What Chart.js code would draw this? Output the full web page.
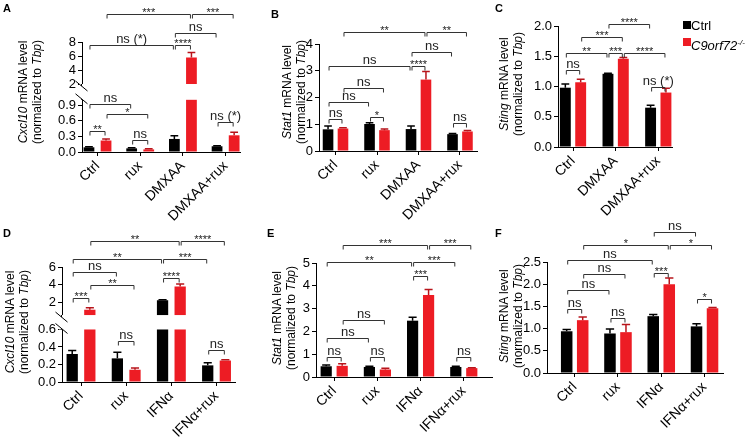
<!DOCTYPE html>
<html>
<head>
<meta charset="utf-8">
<script src="https://cdn.jsdelivr.net/npm/chart.js@4.4.0/dist/chart.umd.min.js"></script>
<style>
  body { margin: 0; background: #fff; }
  #fig { position: relative; width: 749px; height: 440px; overflow: hidden;
         font-family: "Liberation Sans", Arial, Helvetica, sans-serif; color: #000; }
  #fig canvas { position: absolute; left: 0; top: 0; }
  .tag { position: absolute; font-weight: bold; font-size: 11px; line-height: 12px; }
  .ytitle { position: absolute; font-size: 12px; line-height: 14px; white-space: nowrap;
            text-align: center; transform: translate(-50%, -50%) rotate(-90deg); }
  .sq { position: absolute; width: 8px; height: 8px; }
  .legtxt { position: absolute; font-size: 13px; line-height: 15px; white-space: nowrap; }
  .legtxt sup { font-size: 8px; vertical-align: 5px; font-style: italic; }
</style>
</head>
<body>
<div id="fig">
  <canvas id="cA" width="749" height="440"></canvas>
  <canvas id="cB" width="749" height="440"></canvas>
  <canvas id="cC" width="749" height="440"></canvas>
  <canvas id="cD" width="749" height="440"></canvas>
  <canvas id="cE" width="749" height="440"></canvas>
  <canvas id="cF" width="749" height="440"></canvas>

  <div class="tag" style="left:3px;top:2px">A</div>
  <div class="tag" style="left:271px;top:8px">B</div>
  <div class="tag" style="left:495px;top:2px">C</div>
  <div class="tag" style="left:3px;top:227px">D</div>
  <div class="tag" style="left:267px;top:227px">E</div>
  <div class="tag" style="left:495px;top:227px">F</div>

  <div class="ytitle" style="left:30px;top:92px"><i>Cxcl10</i> mRNA level<br>(normalized to <i>Tbp</i>)</div>
  <div class="ytitle" style="left:294px;top:92px"><i>Stat1</i> mRNA level<br>(normalized to <i>Tbp</i>)</div>
  <div class="ytitle" style="left:511px;top:84px"><i>Sting</i> mRNA level<br>(normalized to <i>Tbp</i>)</div>
  <div class="ytitle" style="left:17px;top:322px"><i>Cxcl10</i> mRNA level<br>(normalized to <i>Tbp</i>)</div>
  <div class="ytitle" style="left:284px;top:318px"><i>Stat1</i> mRNA level<br>(normalized to <i>Tbp</i>)</div>
  <div class="ytitle" style="left:511px;top:316px"><i>Sting</i> mRNA level<br>(normalized to <i>Tbp</i>)</div>

  <div class="sq" style="left:683px;top:21px;background:#000"></div>
  <div class="legtxt" style="left:691px;top:18px">Ctrl</div>
  <div class="sq" style="left:683px;top:38px;background:#ed1c24"></div>
  <div class="legtxt" style="left:691px;top:35px"><i>C9orf72</i><sup>-/-</sup></div>
</div>

<script>
// ---- data ----
// brackets: [group, series, group, series, height (axis units), label]; series 0 = Ctrl, 1 = C9orf72-/-

const groupsA = ['Ctrl', 'rux', 'DMXAA', 'DMXAA+rux'];
const ctrlA = [0.09, 0.07, 0.25, 0.11];
const ctrlErrA = [0.01, 0.01, 0.06, 0.01];
const koA = [0.22, 0.05, 5.8, 0.32];
const koErrA = [0.03, 0.01, 0.7, 0.06];
const yTicksA = [0, 0.3, 0.6, 0.9, 2, 4, 6, 8];
const yLabelsA = ['0.0', '0.3', '0.6', '0.9', '2', '4', '6', '8'];
const sigA = [
  [0, 1, 2, 1, 12, '***'], [2, 1, 3, 1, 12, '***'],
  [2, 0, 3, 0, 9.3, 'ns'],
  [0, 0, 2, 0, 7.57, 'ns (*)'], [2, 0, 2, 1, 7.57, '****'],
  [0, 0, 1, 0, 0.92, 'ns'], [0, 1, 1, 1, 0.73, '*'],
  [0, 0, 0, 1, 0.40, '**'], [1, 0, 1, 1, 0.23, 'ns'],
  [3, 0, 3, 1, 0.58, 'ns (*)']
];

const groupsB = ['Ctrl', 'rux', 'DMXAA', 'DMXAA+rux'];
const ctrlB = [0.81, 1.01, 0.82, 0.63];
const ctrlErrB = [0.12, 0.05, 0.11, 0.02];
const koB = [0.84, 0.78, 2.67, 0.73];
const koErrB = [0.03, 0.04, 0.3, 0.04];
const yTicksB = [0, 1, 2, 3, 4];
const yLabelsB = ['0', '1', '2', '3', '4'];
const sigB = [
  [0, 1, 2, 1, 4.43, '**'], [2, 1, 3, 1, 4.43, '**'],
  [2, 0, 3, 0, 3.70, 'ns'],
  [0, 0, 2, 0, 3.16, 'ns'], [2, 0, 2, 1, 3.16, '****'],
  [0, 1, 1, 1, 2.37, 'ns'], [0, 0, 1, 0, 1.82, 'ns'],
  [0, 0, 0, 1, 1.20, 'ns'], [1, 0, 1, 1, 1.28, '*'],
  [3, 0, 3, 1, 1.06, 'ns']
];

const groupsC = ['Ctrl', 'DMXAA', 'DMXAA+rux'];
const ctrlC = [0.98, 1.21, 0.65];
const ctrlErrC = [0.06, 0.01, 0.04];
const koC = [1.07, 1.46, 0.90];
const koErrC = [0.05, 0.02, 0.07];
const yTicksC = [0, 0.5, 1, 1.5, 2];
const yLabelsC = ['0.0', '0.5', '1.0', '1.5', '2.0'];
const sigC = [
  [1, 0, 2, 0, 2.04, '****'],
  [0, 1, 1, 1, 1.81, '***'],
  [0, 0, 1, 0, 1.55, '**'], [1, 0, 1, 1, 1.55, '***'], [1, 1, 2, 1, 1.55, '****'],
  [0, 0, 0, 1, 1.27, 'ns'],
  [2, 0, 2, 1, 1.00, 'ns (*)']
];

const groupsD = ['Ctrl', 'rux', 'IFNα', 'IFNα+rux'];
const ctrlD = [0.32, 0.27, 2.25, 0.19];
const ctrlErrD = [0.04, 0.07, 0.06, 0.03];
const koD = [1.2, 0.14, 3.8, 0.245];
const koErrD = [0.22, 0.02, 0.3, 0.01];
const yTicksD = [0, 0.2, 0.4, 0.6, 2, 4, 6];
const yLabelsD = ['0.0', '0.2', '0.4', '0.6', '2', '4', '6'];
const sigD = [
  [0, 1, 2, 1, 8.9, '**'], [2, 1, 3, 1, 8.9, '****'],
  [0, 0, 2, 0, 6.93, '**'], [2, 0, 3, 0, 6.93, '***'],
  [0, 0, 1, 0, 5.44, 'ns'], [2, 0, 2, 1, 4.81, '****'],
  [0, 1, 1, 1, 4.03, '**'], [0, 0, 0, 1, 2.47, '***'],
  [1, 0, 1, 1, 0.47, 'ns'], [3, 0, 3, 1, 0.37, 'ns']
];

const groupsE = ['Ctrl', 'rux', 'IFNα', 'IFNα+rux'];
const ctrlE = [0.47, 0.44, 2.47, 0.44];
const ctrlErrE = [0.06, 0.03, 0.15, 0.03];
const koE = [0.49, 0.33, 3.6, 0.39];
const koErrE = [0.09, 0.05, 0.24, 0.02];
const yTicksE = [0, 1, 2, 3, 4, 5];
const yLabelsE = ['0', '1', '2', '3', '4', '5'];
const sigE = [
  [0, 1, 2, 1, 5.77, '***'], [2, 1, 3, 1, 5.77, '***'],
  [0, 0, 2, 0, 5.04, '**'], [2, 0, 3, 0, 5.04, '***'],
  [2, 0, 2, 1, 4.41, '***'],
  [0, 1, 1, 1, 2.50, 'ns'], [0, 0, 1, 0, 1.72, 'ns'],
  [0, 0, 0, 1, 0.88, 'ns'], [1, 0, 1, 1, 0.88, 'ns'], [3, 0, 3, 1, 0.88, 'ns']
];

const groupsF = ['Ctrl', 'rux', 'IFNα', 'IFNα+rux'];
const ctrlF = [0.94, 0.89, 1.28, 1.05];
const ctrlErrF = [0.04, 0.1, 0.04, 0.06];
const koF = [1.19, 0.92, 2.0, 1.46];
const koErrF = [0.07, 0.17, 0.14, 0.015];
const yTicksF = [0, 0.5, 1, 1.5, 2, 2.5];
const yLabelsF = ['0.0', '0.5', '1.0', '1.5', '2.0', '2.5'];
const sigF = [
  [2, 0, 3, 0, 3.18, 'ns'],
  [0, 1, 2, 1, 2.89, '*'], [2, 1, 3, 1, 2.89, '*'],
  [0, 0, 2, 0, 2.55, 'ns'],
  [0, 1, 1, 1, 2.23, 'ns'], [2, 0, 2, 1, 2.25, '***'],
  [0, 0, 1, 0, 1.88, 'ns'],
  [0, 0, 0, 1, 1.45, 'ns'], [1, 0, 1, 1, 1.25, 'ns'], [3, 0, 3, 1, 1.67, '*']
];

// ---- layout ----
const W = 749, H = 440;
const FONT = '"Liberation Sans", Arial, Helvetica, sans-serif';
const BLACK = '#000000', RED = '#ed1c24', RED_ERR = '#b8141b';

// box = [left, top, right, bottom] of the plot area; xr = x range in group units
const PANELS = {
  cA: { groups: groupsA, ctrl: ctrlA, ctrlErr: ctrlErrA, ko: koA, koErr: koErrA,
        yTicks: yTicksA, yLabels: yLabelsA, sig: sigA,
        brk: { low: 1, high: 2, lowFrac: 0.4745, gapFrac: 0.1436 },
        box: [82, 42, 240, 152], xr: [-0.363, 3.337], pct: [0.80, 0.63] },
  cB: { groups: groupsB, ctrl: ctrlB, ctrlErr: ctrlErrB, ko: koB, koErr: koErrB,
        yTicks: yTicksB, yLabels: yLabelsB, sig: sigB,
        box: [319, 44, 477, 151], xr: [-0.398, 3.41], pct: [0.72, 0.71] },
  cC: { groups: groupsC, ctrl: ctrlC, ctrlErr: ctrlErrC, ko: koC, koErr: koErrC,
        yTicks: yTicksC, yLabels: yLabelsC, sig: sigC,
        box: [558, 26, 672, 147], xr: [-0.352, 2.322], pct: [0.72, 0.71] },
  cD: { groups: groupsD, ctrl: ctrlD, ctrlErr: ctrlErrD, ko: koD, koErr: koErrD,
        yTicks: yTicksD, yLabels: yLabelsD, sig: sigD,
        brk: { low: 0.6, high: 0.6, lowFrac: 0.4567, gapFrac: 0.1254 },
        box: [62, 267, 235, 382], xr: [-0.421, 3.409], pct: [0.78, 0.64] },
  cE: { groups: groupsE, ctrl: ctrlE, ctrlErr: ctrlErrE, ko: koE, koErr: koErrE,
        yTicks: yTicksE, yLabels: yLabelsE, sig: sigE,
        box: [316, 263, 492, 377], xr: [-0.421, 3.653], pct: [0.74, 0.70] },
  cF: { groups: groupsF, ctrl: ctrlF, ctrlErr: ctrlErrF, ko: koF, koErr: koErrF,
        yTicks: yTicksF, yLabels: yLabelsF, sig: sigF,
        box: [547, 262, 723, 373], xr: [-0.640, 3.427], pct: [0.74, 0.72] }
};

// linear axis with a gap between a lower and an upper segment
class BrokenScale extends Chart.LinearScale {
  static id = 'broken';
  static defaults = {};
  getPixelForValue(value) {
    const b = PANELS[this.chart.canvas.id].brk;
    const lowH = this.height * b.lowFrac, gapH = this.height * b.gapFrac;
    const upH = this.height - lowH - gapH;
    if (value <= b.low) return this.bottom - (value - this.min) / (b.low - this.min) * lowH;
    if (value >= b.high) return this.bottom - lowH - gapH - (value - b.high) / (this.max - b.high) * upH;
    return this.bottom - lowH - (value - b.low) / (b.high - b.low) * gapH;
  }
  getValueForPixel(pixel) {
    const b = PANELS[this.chart.canvas.id].brk;
    const lowH = this.height * b.lowFrac, gapH = this.height * b.gapFrac;
    const upH = this.height - lowH - gapH;
    const d = this.bottom - pixel;
    if (d <= lowH) return this.min + d / lowH * (b.low - this.min);
    if (d >= lowH + gapH) return b.high + (d - lowH - gapH) / upH * (this.max - b.high);
    return b.low + (d - lowH) / gapH * (b.high - b.low);
  }
}
Chart.register(BrokenScale);

// error bars, axis break and significance brackets
const sigPlugin = {
  id: 'sig',
  afterDatasetsDraw(chart) {
    const p = PANELS[chart.canvas.id];
    const ctx = chart.ctx, ys = chart.scales.y, area = chart.chartArea;
    ctx.save();

    [[p.ctrl, p.ctrlErr, BLACK], [p.ko, p.koErr, RED_ERR]].forEach(([vals, errs, col], di) => {
      chart.getDatasetMeta(di).data.forEach((bar, i) => {
        const y0 = ys.getPixelForValue(vals[i]);
        const y1 = ys.getPixelForValue(vals[i] + errs[i]);
        const cap = bar.width * 0.36;
        ctx.strokeStyle = col;
        ctx.lineWidth = 1.5;
        ctx.beginPath();
        ctx.moveTo(bar.x, y0); ctx.lineTo(bar.x, y1);
        ctx.moveTo(bar.x - cap, y1); ctx.lineTo(bar.x + cap, y1);
        ctx.stroke();
      });
    });

    if (p.brk) {
      const yHigh = ys.getPixelForValue(p.brk.high + 1e-9);
      const yLow = ys.getPixelForValue(p.brk.low);
      const x = Math.round(area.left) - 0.5;
      ctx.fillStyle = '#fff';
      ctx.fillRect(area.left - 3, yHigh, area.right - area.left + 6, yLow - yHigh);
      ctx.strokeStyle = '#000';
      ctx.lineWidth = 1;
      ctx.beginPath();
      ctx.moveTo(x, yHigh); ctx.lineTo(x, yHigh + 2);
      ctx.moveTo(x, yLow - 1); ctx.lineTo(x, yLow);
      [yHigh + 2, yLow - 1].forEach(c => {
        ctx.moveTo(x - 6, c - 5); ctx.lineTo(x + 6, c + 5);
      });
      ctx.stroke();
    }

    ctx.lineWidth = 1;
    ctx.strokeStyle = '#333';
    ctx.fillStyle = '#222';
    ctx.textAlign = 'center';
    ctx.textBaseline = 'alphabetic';
    p.sig.forEach(([g1, s1, g2, s2, v, label]) => {
      const x1 = chart.getDatasetMeta(s1).data[g1].x + 1;
      const x2 = chart.getDatasetMeta(s2).data[g2].x - 1;
      const y = Math.round(ys.getPixelForValue(v)) + 0.5;
      ctx.beginPath();
      ctx.moveTo(x1, y + 4); ctx.lineTo(x1, y); ctx.lineTo(x2, y); ctx.lineTo(x2, y + 4);
      ctx.stroke();
      const stars = /^\*+$/.test(label);
      ctx.font = (stars ? '11px ' : '13px ') + FONT;
      ctx.fillText(label, (x1 + x2) / 2, stars ? y + 1 : y - 3);
    });
    ctx.restore();
  }
};

Chart.defaults.font.family = FONT;
Chart.defaults.font.size = 13;
Chart.defaults.color = '#000';

function buildChart(id) {
  const p = PANELS[id];
  const [left, top, right, bottom] = p.box;
  const axisLook = {
    grid: { display: true, drawOnChartArea: false, offset: false, tickLength: 4, color: '#000', lineWidth: 1 },
    border: { display: true, color: '#000', width: 1 }
  };
  new Chart(document.getElementById(id), {
    type: 'bar',
    data: {
      datasets: [
        { label: 'Ctrl', data: p.ctrl.map((v, i) => ({ x: i, y: v })), backgroundColor: BLACK },
        { label: 'C9orf72-/-', data: p.ko.map((v, i) => ({ x: i, y: v })), backgroundColor: RED }
      ]
    },
    options: {
      responsive: false,
      animation: false,
      devicePixelRatio: 1,
      events: [],
      layout: { padding: { left: 0, top: top, right: W - right, bottom: 0 } },
      datasets: { bar: { categoryPercentage: p.pct[0], barPercentage: p.pct[1] } },
      plugins: { legend: { display: false }, tooltip: { enabled: false } },
      scales: {
        x: Object.assign({
          type: 'linear', offset: false, min: p.xr[0], max: p.xr[1],
          afterBuildTicks: s => { s.ticks = p.groups.map((g, i) => ({ value: i })); },
          afterFit: s => { s.height = H - bottom; },
          ticks: { autoSkip: false, minRotation: 45, maxRotation: 45, padding: 2,
                   font: { size: 14 }, callback: (v, i) => p.groups[i] }
        }, axisLook),
        y: Object.assign({
          type: p.brk ? 'broken' : 'linear', min: 0, max: p.yTicks[p.yTicks.length - 1],
          afterBuildTicks: s => { s.ticks = p.yTicks.map(v => ({ value: v })); },
          afterFit: s => { s.width = left; },
          ticks: { autoSkip: false, padding: 2, font: { size: 13 }, callback: (v, i) => p.yLabels[i] }
        }, axisLook)
      }
    },
    plugins: [sigPlugin]
  });
}

Object.keys(PANELS).forEach(buildChart);
</script>
</body>
</html>
